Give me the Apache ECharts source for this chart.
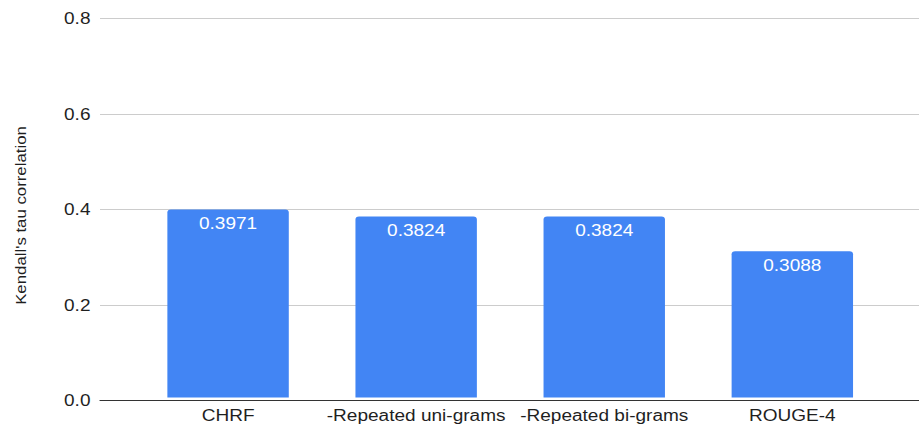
<!DOCTYPE html>
<html>
<head>
<meta charset="utf-8">
<title>Kendall's tau correlation</title>
<script src="https://cdn.jsdelivr.net/npm/echarts@6/dist/echarts.min.js"></script>
<style>
  html, body { margin: 0; padding: 0; background: #fff; }
  #wrap { width: 919px; height: 424px; overflow: hidden; position: relative; }
  /* the chart is laid out narrower and stretched horizontally to the full width */
  #chart { width: 772px; height: 424px; transform: scaleX(1.1904); transform-origin: 0 0; }
</style>
</head>
<body>
<div id="wrap"><div id="chart"></div></div>
<script>
// Metric variants and their Kendall's tau correlation
const categories = ['CHRF', '-Repeated uni-grams', '-Repeated bi-grams', 'ROUGE-4'];
const tauValues = [0.3971, 0.3824, 0.3824, 0.3088];

// Value axis range and tick step
const yMin = 0;
const yMax = 0.8;
const yStep = 0.2;
const yTitle = "Kendall's tau correlation";

const FONT = '"Liberation Sans", Arial, sans-serif';
const TEXT = '#1f1f1f';
const BLUE = '#4285F4';

const chart = echarts.init(document.getElementById('chart'), null, { renderer: 'svg' });

const plotTop = 18.7;
const plotBottom = 23.3;

chart.setOption({
  animation: false,
  backgroundColor: '#ffffff',
  grid: [
    // full-width grid carrying the gridlines, tick labels and baseline
    { left: 84, right: 0, top: plotTop, bottom: plotBottom, containLabel: false },
    // inner grid holding the bars
    { left: 112.6, width: 632, top: plotTop, bottom: plotBottom, containLabel: false }
  ],
  xAxis: [
    {
      gridIndex: 0, type: 'value', min: 0, max: 1,
      axisLine: { show: true, onZero: false, lineStyle: { color: '#333333', width: 1 } },
      axisTick: { show: false }, axisLabel: { show: false }, splitLine: { show: false }
    },
    {
      gridIndex: 1, type: 'category', data: categories,
      axisLine: { show: false }, axisTick: { show: false }, splitLine: { show: false },
      axisLabel: { margin: 10.5, color: TEXT, fontFamily: FONT, fontSize: 16, interval: 0 }
    }
  ],
  yAxis: [
    {
      gridIndex: 0, type: 'value', min: yMin, max: yMax, interval: yStep,
      axisLine: { show: false }, axisTick: { show: false },
      axisLabel: {
        margin: 8, color: TEXT, fontFamily: FONT, fontSize: 16,
        formatter: v => v.toFixed(1)
      },
      splitLine: { show: true, lineStyle: { color: '#cccccc', width: 1 } }
    },
    {
      gridIndex: 1, type: 'value', min: yMin, max: yMax, interval: yStep, show: false,
      splitLine: { show: false }
    }
  ],
  graphic: [
    {
      type: 'text',
      x: 17.4, y: 215.5,
      rotation: Math.PI / 2,
      scaleX: 1.12, scaleY: 0.82,
      style: {
        text: yTitle,
        fill: TEXT,
        font: '15px ' + FONT,
        textAlign: 'center',
        textVerticalAlign: 'middle'
      }
    }
  ],
  series: [
    {
      type: 'bar',
      xAxisIndex: 1, yAxisIndex: 1,
      data: tauValues,
      barWidth: 102,
      itemStyle: { color: BLUE, borderRadius: [3, 3, 0, 0] },
      label: {
        show: true, position: 'insideTop', distance: 6,
        color: '#ffffff', fontFamily: FONT, fontSize: 16,
        formatter: p => p.value.toFixed(4)
      }
    }
  ]
});
</script>
</body>
</html>
